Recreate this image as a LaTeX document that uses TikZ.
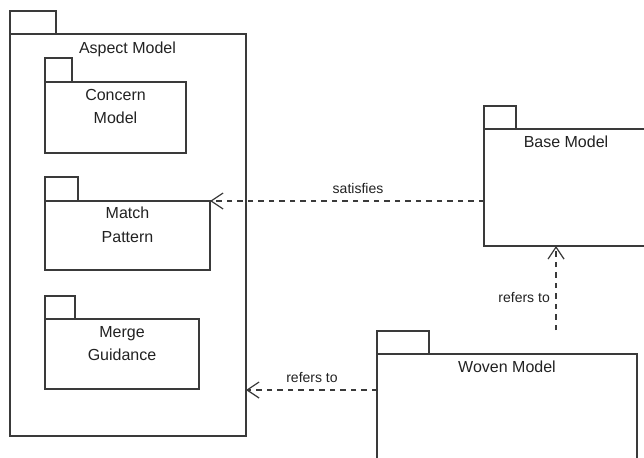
\documentclass[tikz,border=0pt]{standalone}
\usepackage{fontspec}
\setmainfont{Liberation Sans}
\usetikzlibrary{arrows.meta,calc}
\definecolor{linegray}{HTML}{3A3A3A}
\definecolor{inkgray}{HTML}{222222}
\tikzset{
  pkgbody/.style={draw=linegray, line width=1.4pt, anchor=north west, inner sep=0pt, outer sep=0pt},
  pkgtab/.style={draw=linegray, line width=1.4pt, anchor=north west, inner sep=0pt, outer sep=0pt},
  pkgname/.style={anchor=north, align=center, text=inkgray, inner sep=0pt,
    font=\fontsize{16}{23.5}\selectfont},
  deplabel/.style={text=inkgray, inner sep=0pt, font=\fontsize{14}{16}\selectfont},
  dep/.style={draw=linegray, line width=1.3pt, dash pattern=on 5.5pt off 5pt,
    -{Straight Barb[length=12pt, width=16pt, line width=1.2pt]}}
}
\begin{document}
\begin{tikzpicture}[x=1pt, y=-1pt]
\clip (0,0) rectangle (644,457);
\fill[white] (0,0) rectangle (644,457);

% Aspect Model package with its three inner packages
\node[pkgtab, minimum width=46pt, minimum height=23pt] (aspecttab) at (10,11) {};
\node[pkgbody, minimum width=236pt, minimum height=402pt] (aspect) at (10,34) {};
\node[pkgname] (aspectname) at (127.5,42) {Aspect Model};

\node[pkgtab, minimum width=27pt, minimum height=24pt] (concerntab) at (45,58) {};
\node[pkgbody, minimum width=141pt, minimum height=71pt] (concern) at (45,82) {};
\node[pkgname] (concernname) at (115.5,89) {Concern\\Model};

\node[pkgtab, minimum width=33pt, minimum height=24pt] (matchtab) at (45,177) {};
\node[pkgbody, minimum width=165pt, minimum height=69pt] (match) at (45,201) {};
\node[pkgname] (matchname) at (127.5,207) {Match\\Pattern};

\node[pkgtab, minimum width=30pt, minimum height=23pt] (mergetab) at (45,296) {};
\node[pkgbody, minimum width=154pt, minimum height=70pt] (merge) at (45,319) {};
\node[pkgname] (mergename) at (122,326) {Merge\\Guidance};

% Base Model package
\node[pkgtab, minimum width=32pt, minimum height=23pt] (basetab) at (484,106) {};
\node[pkgbody, minimum width=164pt, minimum height=117pt] (base) at (484,129) {};
\node[pkgname] (basename) at (566,136) {Base Model};

% Woven Model package
\node[pkgtab, minimum width=52pt, minimum height=23pt] (woventab) at (377,331) {};
\node[pkgbody, minimum width=260pt, minimum height=130pt] (woven) at (377,354) {};
\node[pkgname] (wovenname) at (507,361) {Woven Model};

% Dependencies
\draw[dep] (base.west |- match.north east) -- (match.north east);
\node[deplabel] (satlabel) at (358,188) {satisfies};

\coordinate (wovenleft) at (377,390);
\draw[dep] (woven.west |- wovenleft) -- (aspect.east |- wovenleft);
\node[deplabel] (reflabelA) at (312,377) {refers to};

\coordinate (wovenup) at (556,330);
\draw[dep] (wovenup) -- (base.south -| wovenup);
\node[deplabel, anchor=east] (reflabelB) at (550,297) {refers to};
\end{tikzpicture}
\end{document}
